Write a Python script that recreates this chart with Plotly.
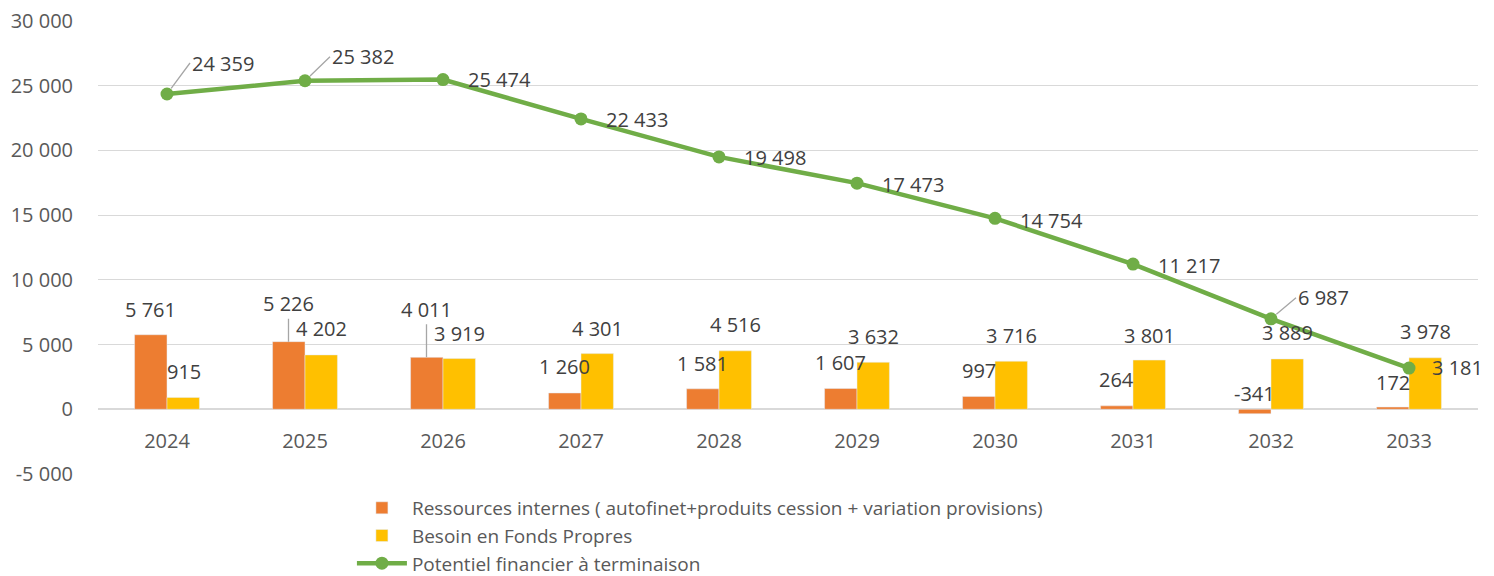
import plotly.graph_objects as go

years = ["2024", "2025", "2026", "2027", "2028", "2029", "2030", "2031", "2032", "2033"]
ressources = [5761, 5226, 4011, 1260, 1581, 1607, 997, 264, -341, 172]
besoin = [915, 4202, 3919, 4301, 4516, 3632, 3716, 3801, 3889, 3978]
potentiel = [24359, 25382, 25474, 22433, 19498, 17473, 14754, 11217, 6987, 3181]

y_tick_vals = [-5000, 0, 5000, 10000, 15000, 20000, 25000, 30000]
y_tick_text = ["-5 000", "0", "5 000", "10 000", "15 000", "20 000", "25 000", "30 000"]

name_res = "Ressources internes ( autofinet+produits cession + variation provisions)"
name_bes = "Besoin en Fonds Propres"
name_pot = "Potentiel financier à terminaison"

# label placement (pixel offsets above the value)
res_lab_dy = [25, 38, 48, 26, 25, 26, 26, 26, 20, 25]
res_leader = [False, True, True, False, False, False, False, False, False, False]
bes_lab_dy = [26, 26, 25, 25, 26, 26, 26, 25, 26, 26]
pot_lab_dx = [23, 25, 23, 23, 23, 23, 23, 23, 25, 21]
pot_lab_dy = [31, 24, 0, -1, -1, -1, -2, -1, 21, 1]
pot_leader = [True, True, False, False, False, False, False, False, True, False]

ORANGE = "#ED7D31"
YELLOW = "#FFC000"
GREEN = "#70AD47"
LABEL = "#404040"
TICK = "#595959"
GRID = "#D9D9D9"
LEAD = "#A6A6A6"
FONT = "Open Sans"


def fmt(v):
    return f"{v:,}".replace(",", " ")


fig = go.Figure()
fig.add_trace(go.Bar(x=years, y=ressources, name=name_res, marker_color=ORANGE))
fig.add_trace(go.Bar(x=years, y=besoin, name=name_bes, marker_color=YELLOW))
fig.add_trace(go.Scatter(x=years, y=potentiel, name=name_pot, mode="lines+markers",
                         line=dict(color=GREEN, width=4.5),
                         marker=dict(color=GREEN, size=13)))

lab_font = dict(family=FONT, size=20, color=LABEL)
ann = []
half = 16.5
for i, yr in enumerate(years):
    # category axis: annotation x given as category index
    v = ressources[i]
    if res_leader[i]:
        ann.append(dict(x=i, y=v, xref="x", yref="y", text=fmt(v), xshift=-half,
                        showarrow=True, arrowhead=0, arrowwidth=1.3, arrowcolor=LEAD,
                        ax=0, ay=-res_lab_dy[i], standoff=0, font=lab_font))
    else:
        ann.append(dict(x=i, y=v, xref="x", yref="y", text=fmt(v), xshift=-half,
                        yshift=res_lab_dy[i], showarrow=False, yanchor="middle", font=lab_font))
    b = besoin[i]
    ann.append(dict(x=i, y=b, xref="x", yref="y", text=fmt(b), xshift=half,
                    yshift=bes_lab_dy[i], showarrow=False, yanchor="middle", font=lab_font))
    p = potentiel[i]
    if pot_leader[i]:
        ann.append(dict(x=i, y=p, xref="x", yref="y", text=fmt(p),
                        showarrow=True, arrowhead=0, arrowwidth=1.3, arrowcolor=LEAD,
                        ax=pot_lab_dx[i], ay=-pot_lab_dy[i], xanchor="left", yanchor="middle",
                        standoff=7, font=lab_font))
    else:
        ann.append(dict(x=i, y=p, xref="x", yref="y", text=fmt(p), xshift=pot_lab_dx[i],
                        yshift=pot_lab_dy[i], showarrow=False, xanchor="left", yanchor="middle",
                        font=lab_font))

fig.update_layout(
    width=1494, height=576,
    margin=dict(l=98, r=16, t=21, b=102, autoexpand=False),
    paper_bgcolor="white", plot_bgcolor="white",
    barmode="group", bargap=0.53, bargroupgap=0,
    font=dict(family=FONT, color=TICK),
    annotations=ann,
    showlegend=True,
    legend=dict(orientation="v", x=0.184, xanchor="left", y=-0.033, yanchor="top",
                font=dict(family=FONT, size=19, color=TICK), itemwidth=50,
                tracegroupgap=0, bgcolor="rgba(0,0,0,0)"),
)
fig.update_yaxes(range=[-5000, 30000], tickvals=y_tick_vals, ticktext=y_tick_text,
                 showgrid=True, gridcolor=GRID, gridwidth=1.3, zeroline=True, zerolinecolor=GRID,
                 zerolinewidth=1.5, showline=False, ticks="", ticklabelstandoff=24,
                 tickfont=dict(family=FONT, size=20, color=TICK), domain=[0, 1])
fig.update_xaxes(type="category", categoryorder="array", categoryarray=years,
                 range=[-0.5, len(years) - 0.5], autorange=False,
                 anchor="free", position=5000 / 35000, showline=False,
                 ticks="", ticklabelstandoff=18, showgrid=False,
                 tickfont=dict(family=FONT, size=20, color=TICK))

fig.write_html("out.html", config={"displayModeBar": False},
               post_script="document.body.style.margin='0';document.body.style.overflow='hidden';")
